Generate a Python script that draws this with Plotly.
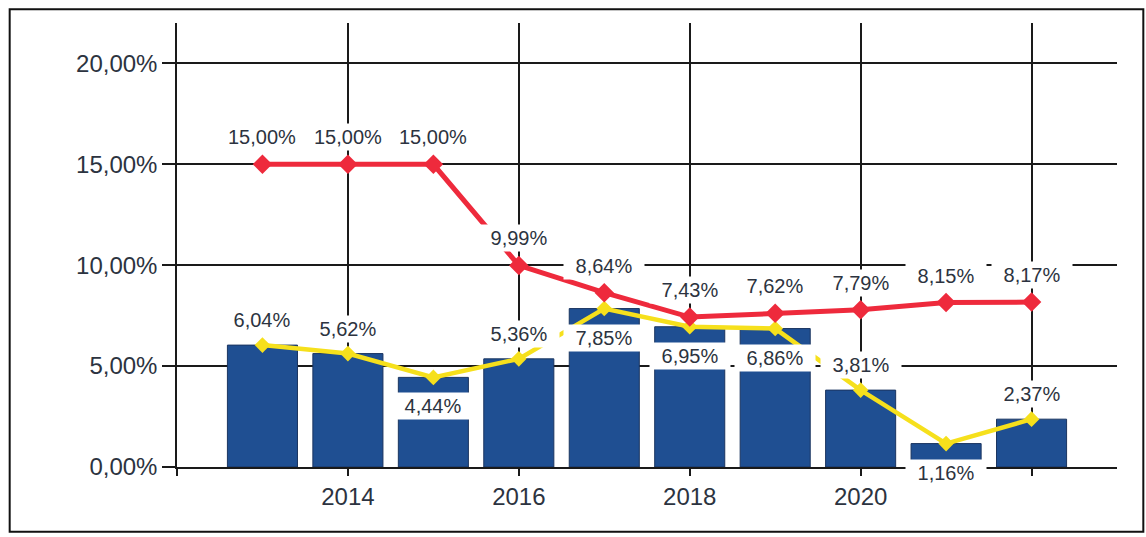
import plotly.graph_objects as go

years = [2013, 2014, 2015, 2016, 2017, 2018, 2019, 2020, 2021, 2022]
red_values = [15.00, 15.00, 15.00, 9.99, 8.64, 7.43, 7.62, 7.79, 8.15, 8.17]
yellow_values = [6.04, 5.62, 4.44, 5.36, 7.85, 6.95, 6.86, 3.81, 1.16, 2.37]
bar_values = [6.04, 5.62, 4.44, 5.36, 7.85, 6.95, 6.86, 3.81, 1.16, 2.37]
yellow_label_side = ["above", "above", "below", "above", "below",
                     "below", "below", "above", "below", "above"]
x_tickvals = [2012, 2014, 2016, 2018, 2020, 2022]
x_ticktext = ["", "2014", "2016", "2018", "2020", ""]
y_tickvals = [0, 5, 10, 15, 20]
y_ticktext = ["0,00%", "5,00%", "10,00%", "15,00%", "20,00%"]

BLUE = "#1f4f92"
RED = "#ee2a3c"
YELLOW = "#f6e01c"
TEXT = "#2c3340"
FONT = "Liberation Sans, Arial, sans-serif"


def fmt(v):
    return f"{v:.2f}".replace(".", ",") + "%"


fig = go.Figure()
fig.add_trace(go.Bar(
    x=years, y=bar_values, width=0.82,
    marker=dict(color=BLUE, line=dict(color="#1b3560", width=1)),
    hoverinfo="skip", showlegend=False,
))
fig.add_trace(go.Scatter(
    x=years, y=yellow_values, mode="lines+markers",
    line=dict(color=YELLOW, width=4.5),
    marker=dict(symbol="diamond", size=12, color=YELLOW),
    showlegend=False,
))
fig.add_trace(go.Scatter(
    x=years, y=red_values, mode="lines+markers",
    line=dict(color=RED, width=5),
    marker=dict(symbol="diamond", size=15, color=RED),
    showlegend=False,
))

annotations = []
for x, v in zip(years, red_values):
    annotations.append(dict(
        x=x, y=v, xref="x", yref="y", text=fmt(v), showarrow=False,
        yshift=27, bgcolor="white", width=76, height=22, borderpad=2,
        font=dict(size=20, color=TEXT, family=FONT),
    ))
for x, v, side in zip(years, yellow_values, yellow_label_side):
    annotations.append(dict(
        x=x, y=v, xref="x", yref="y", text=fmt(v), showarrow=False,
        yshift=25 if side == "above" else -29, bgcolor="white",
        width=76, height=22, borderpad=2,
        font=dict(size=20, color=TEXT, family=FONT),
    ))

fig.update_layout(
    width=1146, height=537,
    margin=dict(l=177, r=29, t=23, b=70),
    paper_bgcolor="white", plot_bgcolor="white",
    separators=",.",
    font=dict(family=FONT, color=TEXT),
    annotations=annotations,
    shapes=[dict(
        type="rect", xref="paper", yref="paper",
        x0=-0.178, x1=1.028, y0=-0.146, y1=1.031,
        line=dict(color="#111", width=2), fillcolor="rgba(0,0,0,0)",
        layer="above",
    )],
)
fig.update_xaxes(
    range=[2012, 2023], tickvals=x_tickvals, ticktext=x_ticktext,
    showgrid=True, gridcolor="#1a1a1a", gridwidth=1.5,
    showline=True, linecolor="#1a1a1a", linewidth=1.5,
    ticks="outside", ticklen=7, tickcolor="#1a1a1a", tickwidth=1.5,
    tickfont=dict(size=24, color=TEXT, family=FONT),
    zeroline=False, fixedrange=True,
)
fig.update_yaxes(
    range=[0, 22], tickvals=y_tickvals, ticktext=y_ticktext,
    showgrid=True, gridcolor="#1a1a1a", gridwidth=1.5,
    showline=True, linecolor="#1a1a1a", linewidth=1.5,
    ticks="outside", ticklen=13, tickcolor="#1a1a1a", tickwidth=1.5,
    tickfont=dict(size=24, color=TEXT, family=FONT),
    zeroline=False, fixedrange=True,
)

fig.write_html("out.html")
